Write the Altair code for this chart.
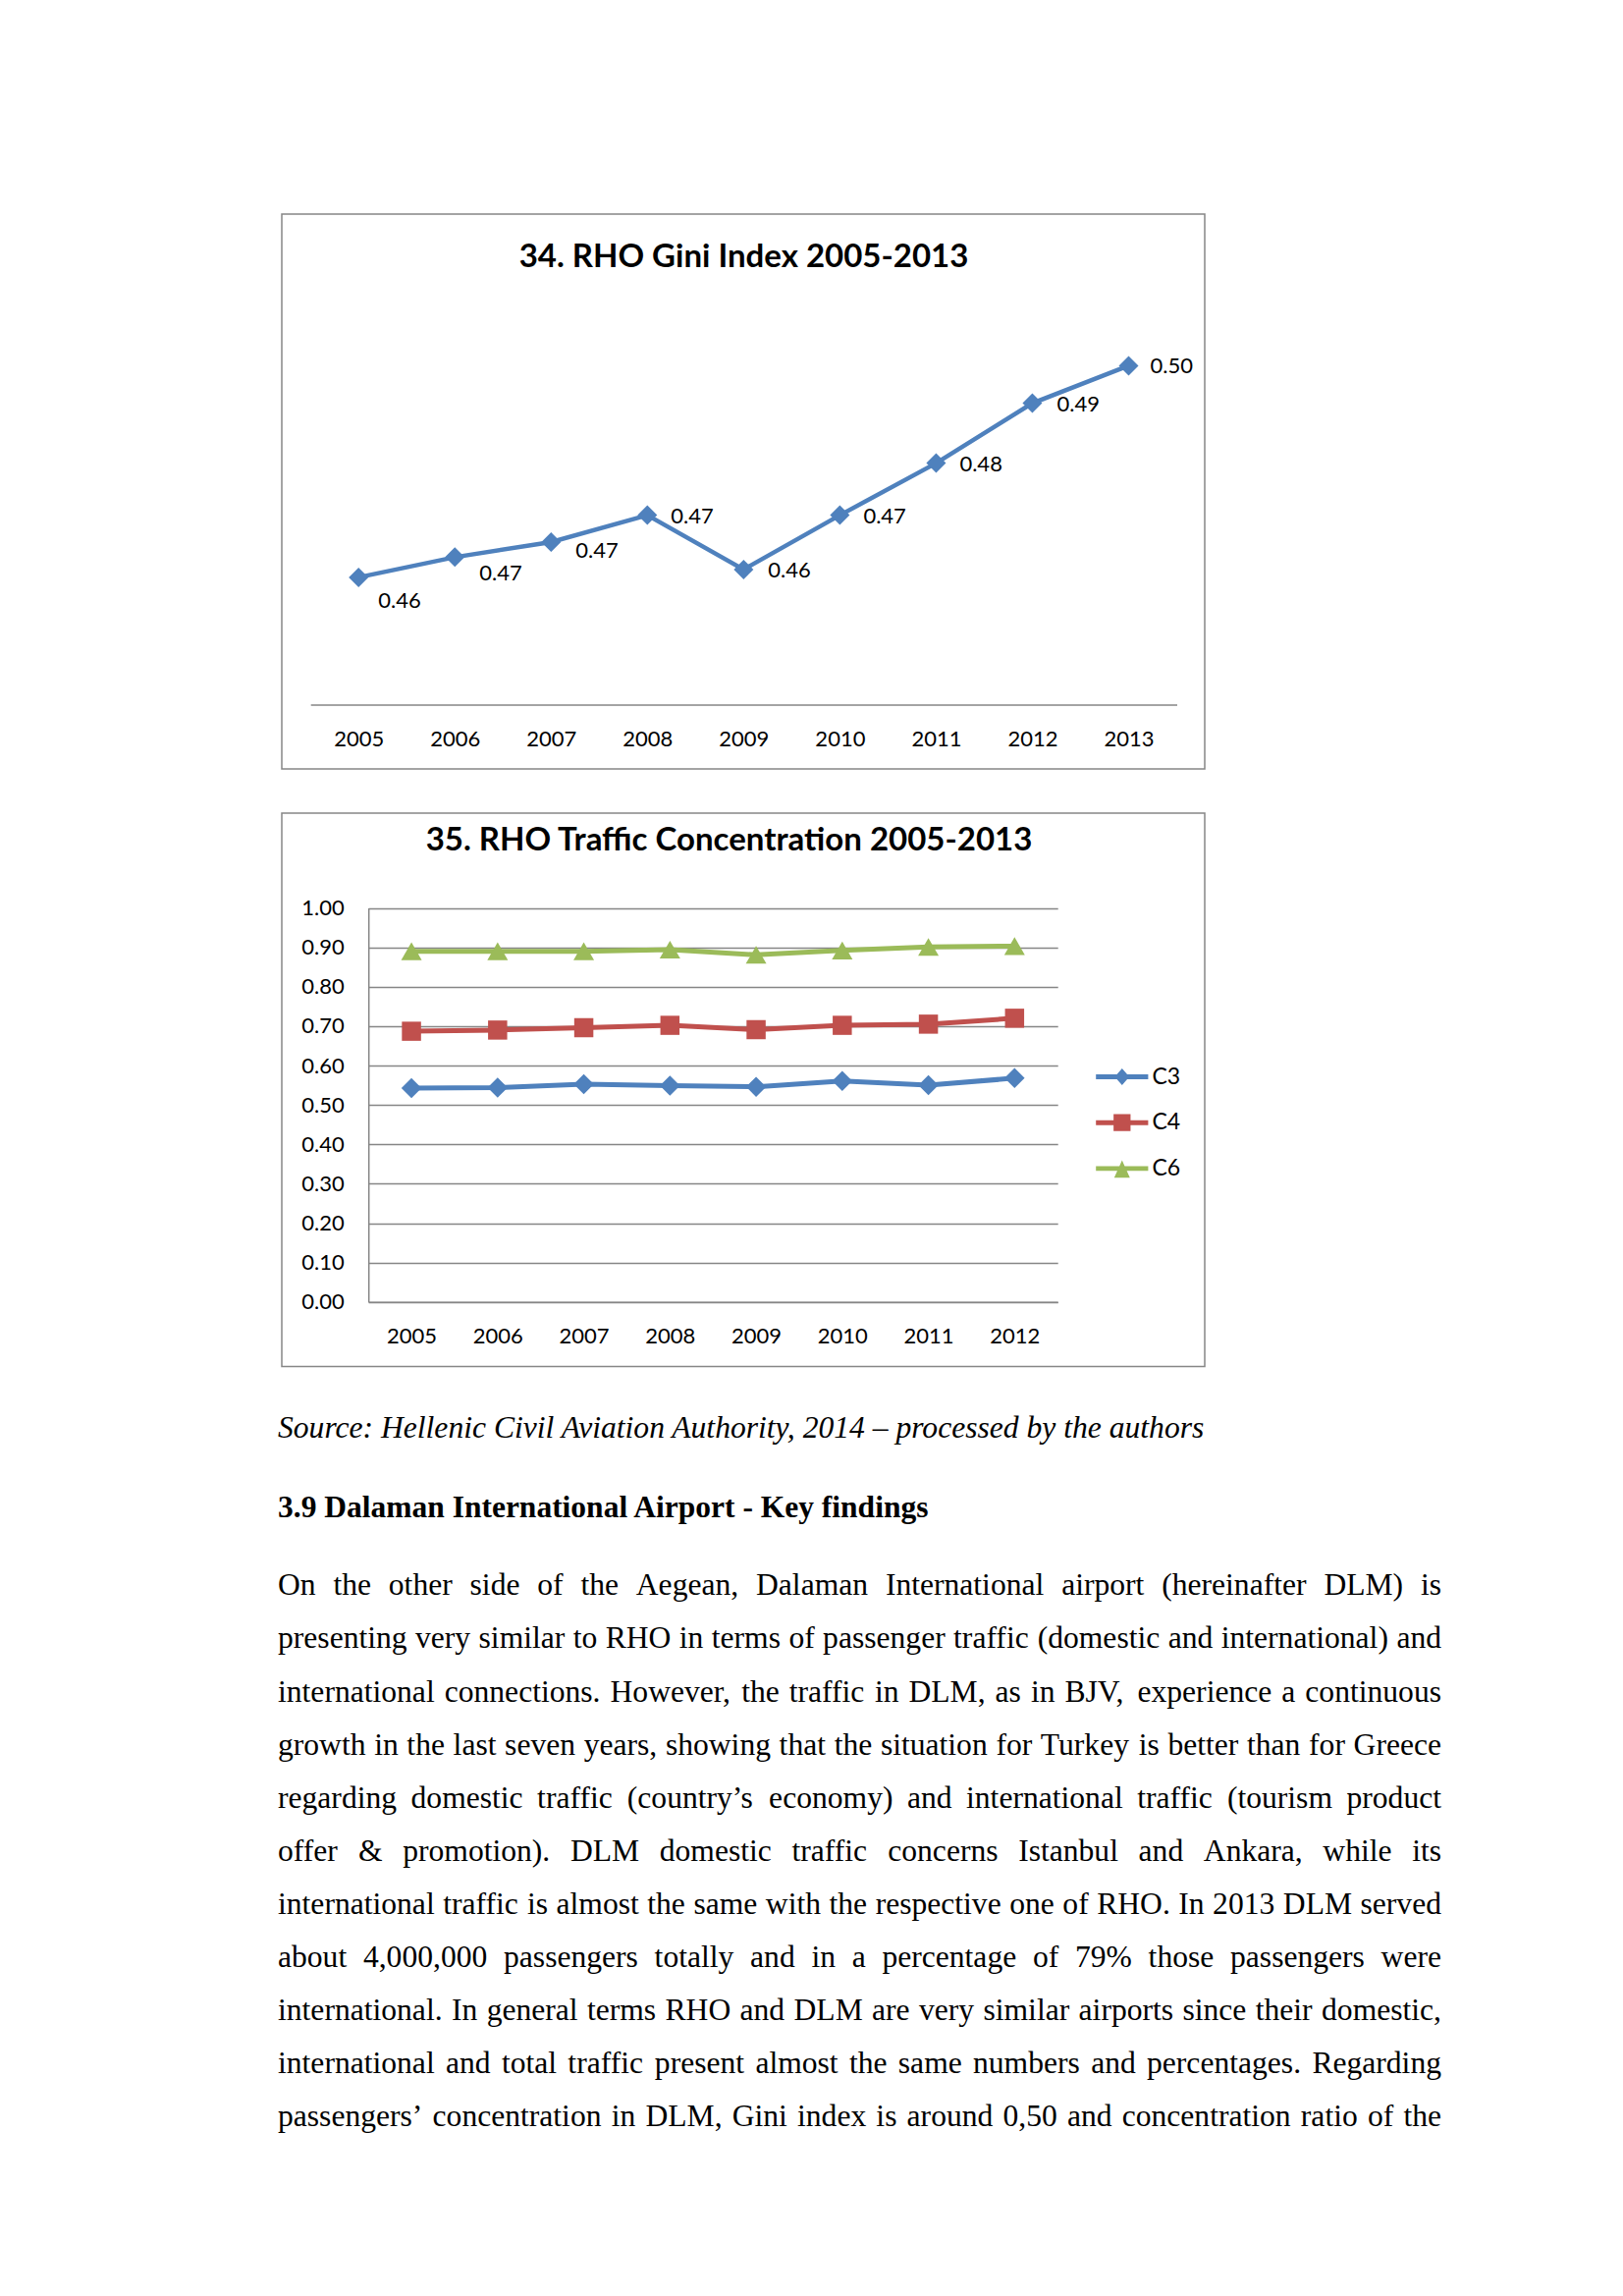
import altair as alt
import pandas as pd

# ---------------- data ----------------
YEARS_GINI = ["2005", "2006", "2007", "2008", "2009", "2010", "2011", "2012", "2013"]
GINI = [0.4623, 0.4659, 0.4686, 0.4734, 0.4637, 0.4734, 0.4827, 0.4934, 0.5001]

YEARS_CONC = ["2005", "2006", "2007", "2008", "2009", "2010", "2011", "2012"]
C3 = [0.543, 0.544, 0.553, 0.549, 0.546, 0.561, 0.550, 0.568]
C4 = [0.687, 0.690, 0.696, 0.702, 0.691, 0.702, 0.705, 0.720]
C6 = [0.890, 0.890, 0.890, 0.894, 0.881, 0.892, 0.901, 0.903]
SERIES = ["C3", "C4", "C6"]
Y_TICKS = [0.0, 0.1, 0.2, 0.3, 0.4, 0.5, 0.6, 0.7, 0.8, 0.9, 1.0]

TITLE1 = "34. RHO Gini Index 2005-2013"
TITLE2 = "35. RHO Traffic Concentration 2005-2013"
SOURCE = "Source: Hellenic Civil Aviation Authority, 2014 \u2013 processed by the authors"
HEADING = "3.9 Dalaman International Airport - Key findings"
PARAGRAPH = [
    "On the other side of the Aegean, Dalaman International airport (hereinafter DLM) is",
    "presenting very similar to RHO in terms of passenger traffic (domestic and international) and",
    "international connections. However, the traffic in DLM, as in BJV, experience a continuous",
    "growth in the last seven years, showing that the situation for Turkey is better than for Greece",
    "regarding domestic traffic (country\u2019s economy) and international traffic (tourism product",
    "offer & promotion). DLM domestic traffic concerns Istanbul and Ankara, while its",
    "international traffic is almost the same with the respective one of RHO. In 2013 DLM served",
    "about 4,000,000 passengers totally and in a percentage of 79% those passengers were",
    "international. In general terms RHO and DLM are very similar airports since their domestic,",
    "international and total traffic present almost the same numbers and percentages. Regarding",
    "passengers\u2019 concentration in DLM, Gini index is around 0,50 and concentration ratio of the",
]

# ---------------- styles ----------------
BLUE, RED, GREEN = "#4F81BD", "#C0504D", "#9BBB59"
COLORS = [BLUE, RED, GREEN]
GREY = "#868686"
CFONT = "Lato"
TFONT = "Liberation Serif"
W = 940
H1 = 565
H2 = 563.5
BODY_FS = 31.6
TEXT_LEFT = -4
TEXT_W = 1185

# per-label placement of the Gini data labels (dx, dy) in pixels
LABEL_DX = [20, 25, 25, 24, 25, 24, 24, 25, 22]
LABEL_DY = [24, 17, 9, 1, 1, 1, 1, 1, 1]

# ---------------- chart 34 ----------------
gini_df = pd.DataFrame({"year": YEARS_GINI, "gini": GINI})

x1 = alt.X(
    "year:O",
    scale=alt.Scale(type="point", range=[29.2, 911.5], padding=0.5),
    axis=alt.Axis(
        title=None, offset=-65.5, domainColor=GREY, domainWidth=1.5,
        ticks=False, tickSize=0, labelPadding=41.5, labelBaseline="alphabetic",
        labelAngle=0, labelFont=CFONT, labelFontSize=22, labelColor="black", grid=False,
    ),
)
y1 = alt.Y("gini:Q", scale=alt.Scale(domain=[0.44, 0.51], range=[497, 98]), axis=None)

base1 = alt.Chart(gini_df).encode(x=x1, y=y1)
line1 = base1.mark_line(color=BLUE, strokeWidth=4.5)
pts1 = base1.mark_point(shape="diamond", filled=True, size=400, color=BLUE, opacity=1)
labels1 = []
for i, yr in enumerate(YEARS_GINI):
    labels1.append(
        base1.transform_filter(alt.datum.year == yr)
        .mark_text(align="left", baseline="middle", dx=LABEL_DX[i], dy=LABEL_DY[i],
                   font=CFONT, fontSize=22, color="black")
        .encode(text=alt.Text("gini:Q", format=".2f"))
    )
title1 = alt.Chart(pd.DataFrame({"t": [TITLE1]})).mark_text(
    align="center", baseline="alphabetic", font=CFONT, fontSize=33, fontWeight="bold", color="black"
).encode(text="t:N", x=alt.value(470.5), y=alt.value(54.2))

chart1 = alt.layer(line1, pts1, *labels1, title1).properties(
    width=W, height=H1, view=alt.ViewBackground(stroke=GREY, strokeWidth=1.5)
)

# ---------------- chart 35 ----------------
rows = []
for s, vals in zip(SERIES, [C3, C4, C6]):
    for yr, v in zip(YEARS_CONC, vals):
        rows.append({"year": yr, "series": s, "value": v})
conc_df = pd.DataFrame(rows)

x2 = alt.X(
    "year:O",
    scale=alt.Scale(type="point", range=[88.2, 790.2], padding=0.5),
    axis=alt.Axis(
        title=None, offset=-65.7, domainColor=GREY, domainWidth=1.5,
        ticks=False, tickSize=0, labelPadding=41.4, labelBaseline="alphabetic",
        labelAngle=0, labelFont=CFONT, labelFontSize=22, labelColor="black", grid=False,
    ),
)
y2 = alt.Y(
    "value:Q",
    scale=alt.Scale(domain=[0, 1], range=[497.8, 96.5]),
    axis=alt.Axis(
        title=None, values=Y_TICKS, format=".2f", offset=-88.2,
        grid=True, gridColor=GREY, gridWidth=1.5, domainColor=GREY, domainWidth=1.5,
        ticks=False, tickSize=0, labelPadding=25, labelFont=CFONT, labelFontSize=22,
        labelColor="black",
    ),
)
base2 = alt.Chart(conc_df).encode(x=x2, y=y2)

SHAPES = {"C3": ("diamond", 420), "C4": ("square", 380), "C6": ("triangle-up", 440)}
layers2 = []
for s, col in zip(SERIES, COLORS):
    b = base2.transform_filter(alt.datum.series == s)
    layers2.append(b.mark_line(color=col, strokeWidth=5))
for s, col in zip(SERIES, COLORS):
    b = base2.transform_filter(alt.datum.series == s)
    shp, sz = SHAPES[s]
    layers2.append(b.mark_point(shape=shp, size=sz, filled=True, color=col, opacity=1))

LINE_BAR = "M-1.4,-0.13L1.4,-0.13L1.4,0.13L-1.4,0.13Z"
LEGEND_PATHS = [
    LINE_BAR + " M0,-0.45L0.39,0L0,0.45L-0.39,0Z",
    LINE_BAR + " M-0.455,-0.455L0.455,-0.455L0.455,0.455L-0.455,0.455Z",
    LINE_BAR + " M0,-0.44L0.42,0.49L-0.42,0.49Z",
]
leg = alt.Legend(
    title=None, orient="none", legendX=836.8, legendY=249.5, symbolSize=1444,
    symbolStrokeWidth=0, symbolOpacity=1, labelFont=CFONT, labelFontSize=23,
    labelColor="black", labelOffset=11.7, rowPadding=15.7, padding=0,
)
legend_layer = base2.mark_point(filled=True, opacity=0).encode(
    color=alt.Color("series:N", scale=alt.Scale(domain=SERIES, range=COLORS), legend=leg),
    shape=alt.Shape("series:N", scale=alt.Scale(domain=SERIES, range=LEGEND_PATHS), legend=leg),
)
title2 = alt.Chart(pd.DataFrame({"t": [TITLE2]})).mark_text(
    align="center", baseline="alphabetic", font=CFONT, fontSize=33, fontWeight="bold", color="black"
).encode(text="t:N", x=alt.value(455.5), y=alt.value(38.2))

chart2 = alt.layer(*layers2, legend_layer, title2).properties(
    width=W, height=H2, view=alt.ViewBackground(stroke=GREY, strokeWidth=1.5)
)

# ---------------- text block (justified body text) ----------------
# Times New Roman advance widths (per 1000 em), used to justify the body lines
TIMES_W = {" ": 250, "!": 333, "%": 833, "&": 778, "(": 333, ")": 333, ",": 250, "-": 333,
           ".": 250, ":": 278, ";": 278, "\u2019": 333, "'": 180}
TIMES_W.update({d: 500 for d in "0123456789"})
TIMES_W.update(dict(zip("abcdefghijklmnopqrstuvwxyz",
                        [444, 500, 444, 500, 444, 333, 500, 500, 278, 278, 500, 278, 778,
                         500, 500, 500, 500, 333, 389, 278, 500, 500, 722, 500, 500, 444])))
TIMES_W.update(dict(zip("ABCDEFGHIJKLMNOPQRSTUVWXYZ",
                        [722, 667, 667, 722, 611, 556, 722, 722, 333, 389, 722, 611, 889,
                         722, 722, 556, 722, 667, 556, 611, 722, 722, 944, 722, 722, 611])))


def word_width(w):
    return sum(TIMES_W.get(c, 500) for c in w) / 1000.0 * BODY_FS


word_rows = []
for li, line in enumerate(PARAGRAPH):
    words = line.split(" ")
    widths = [word_width(w) for w in words]
    gap = (TEXT_W - sum(widths)) / (len(words) - 1)
    pos = 0.0
    for k, w in enumerate(words):
        last = k == len(words) - 1
        word_rows.append({
            "i": li, "w": w, "last": last,
            "px": TEXT_LEFT + (TEXT_W if last else pos),
        })
        pos += widths[k] + gap
words_df = pd.DataFrame(word_rows)

src = alt.Chart(pd.DataFrame({"t": [SOURCE]})).mark_text(
    align="left", baseline="alphabetic", font=TFONT, fontStyle="italic", fontSize=31.6, color="black"
).encode(text="t:N", x=alt.value(TEXT_LEFT), y=alt.value(27.3))
head = alt.Chart(pd.DataFrame({"t": [HEADING]})).mark_text(
    align="left", baseline="alphabetic", font=TFONT, fontWeight="bold", fontSize=31.5, color="black"
).encode(text="t:N", x=alt.value(TEXT_LEFT), y=alt.value(108))

ybody = alt.Y("i:Q", scale=alt.Scale(domain=[0, 10], range=[187.3, 728.3]), axis=None)
xbody = alt.X("px:Q", scale=None, axis=None)
body_base = alt.Chart(words_df).encode(text="w:N", x=xbody, y=ybody)
body_left = body_base.transform_filter("!datum.last").mark_text(
    align="left", baseline="alphabetic", font=TFONT, fontSize=BODY_FS, color="black")
body_right = body_base.transform_filter("datum.last").mark_text(
    align="right", baseline="alphabetic", font=TFONT, fontSize=BODY_FS, color="black")

textblock = alt.layer(src, head, body_left, body_right).properties(
    width=1190, height=745, view=alt.ViewBackground(stroke=None)
)

chart = alt.vconcat(chart1, chart2, textblock, spacing=45, bounds="flush").properties(
    padding={"left": 275, "top": 209, "right": 10, "bottom": 10}
).resolve_scale(color="independent", shape="independent").resolve_legend(
    color="independent", shape="independent"
).configure_view(stroke=None)

chart.save("out.html", embed_options={"renderer": "svg", "actions": False})
